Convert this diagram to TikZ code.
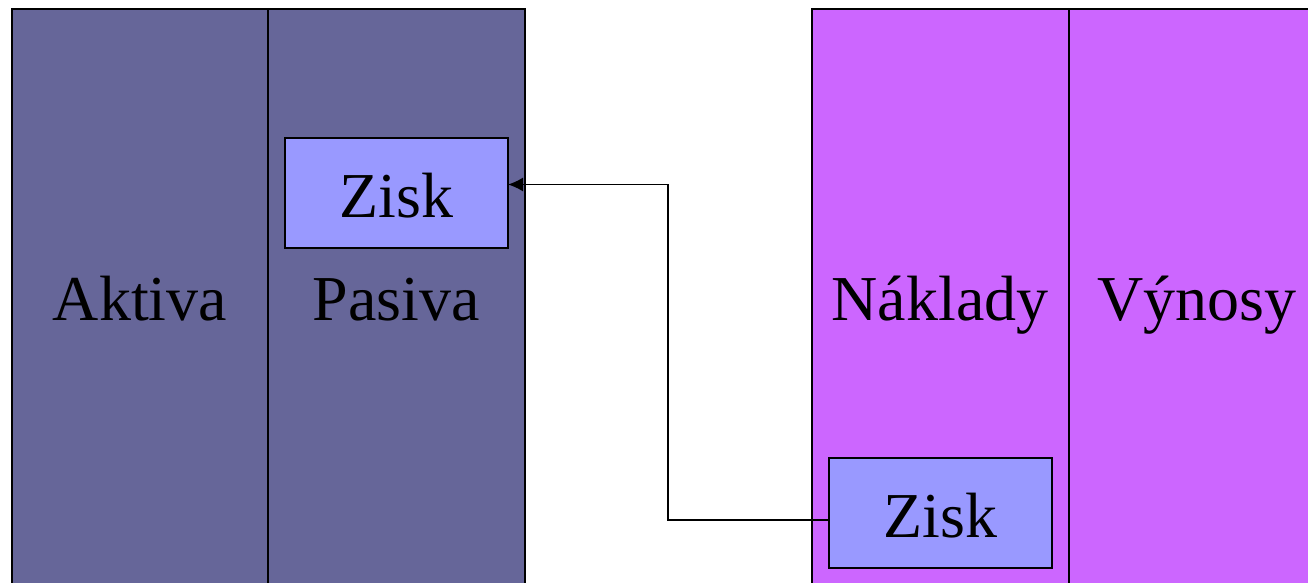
\documentclass[tikz,border=0pt]{standalone}
\usepackage{fontspec}
\setmainfont{Liberation Serif}
\usetikzlibrary{arrows.meta}
\definecolor{bilance}{HTML}{666699}
\definecolor{vysledovka}{HTML}{CC66FF}
\definecolor{ziskc}{HTML}{9999FF}
\begin{document}
\begin{tikzpicture}[x=1pt,y=-1pt,
  col/.style={draw=black,line width=2pt,minimum width=256.5pt,minimum height=600pt,inner sep=0pt,outer sep=0pt,anchor=north west},
  lbl/.style={font=\fontsize{64}{70}\selectfont,anchor=base,inner sep=0pt},
  ziskbox/.style={draw=black,line width=2pt,fill=ziskc,minimum width=223.5pt,minimum height=110.5pt,inner sep=0pt,outer sep=0pt,anchor=north west},
  conn/.style={line width=1.5pt}]
\useasboundingbox (0,0) rectangle (1308,583);
\clip (0,0) rectangle (1308,583);
\node[col,fill=bilance] (aktiva) at (11.5,9) {};
\node[col,fill=bilance] (pasiva) at (268,9) {};
\node[col,fill=vysledovka] (naklady) at (812,9) {};
\node[col,fill=vysledovka] (vynosy) at (1069,9) {};
\node[lbl] (taktiva) at (140,320) {Aktiva};
\node[lbl] (tpasiva) at (396,320) {Pasiva};
\node[lbl] (tnaklady) at (940,320) {Náklady};
\node[lbl] (tvynosy) at (1197,320) {Výnosy};
\node[ziskbox] (zisk1) at (284.5,137.5) {};
\node[lbl] at (zisk1.center) [yshift=-24.5pt] {Zisk};
\node[ziskbox] (zisk2) at (828.5,457.5) {};
\node[lbl] at (zisk2.center) [yshift=-24.5pt] {Zisk};
\coordinate (bend1) at (668,520);
\coordinate (bend2) at (668,184.5);
\draw[conn,-{Latex[length=15pt,width=14pt]}] (zisk2.west |- bend1) -- (bend1) -- (bend2) -- (zisk1.east |- bend2);
\end{tikzpicture}
\end{document}
